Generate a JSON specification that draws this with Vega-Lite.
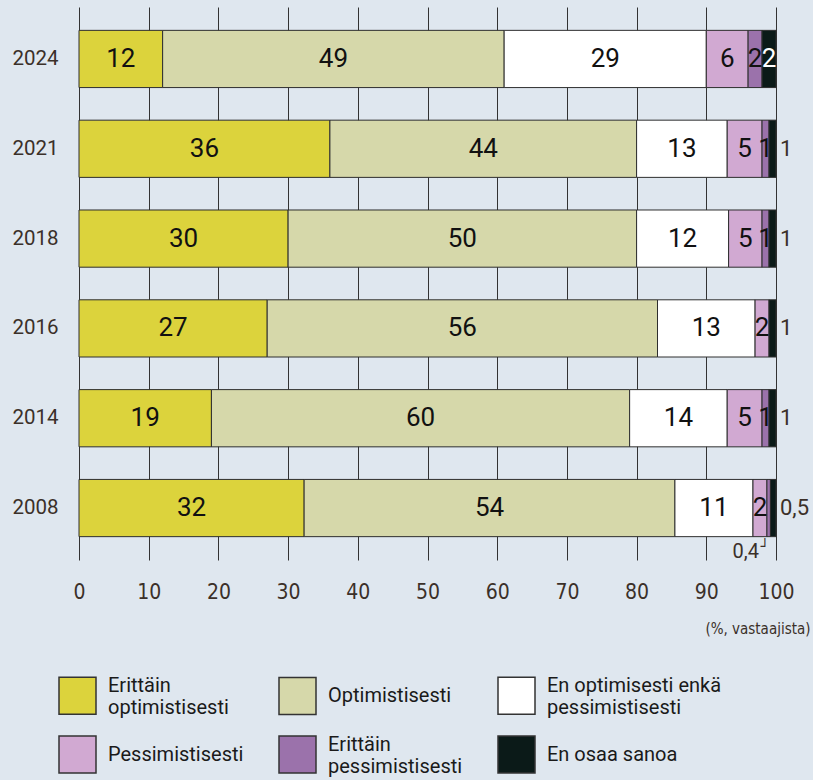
{
  "$schema": "https://vega.github.io/schema/vega-lite/v6.json",
  "width": 697,
  "height": 553,
  "autosize": {"type": "none"},
  "padding": {"left": 79, "top": 7, "right": 37, "bottom": 220},
  "background": "#dfe7ef",
  "config": {"view": {"stroke": null}, "font": "Roboto"},
  "data": {
    "values": [
      {"year": "2024", "cat": "Erittäin optimistisesti", "value": 12, "label": "12"},
      {"year": "2024", "cat": "Optimistisesti", "value": 49, "label": "49"},
      {"year": "2024", "cat": "En optimisesti enkä pessimistisesti", "value": 29, "label": "29"},
      {"year": "2024", "cat": "Pessimistisesti", "value": 6, "label": "6"},
      {"year": "2024", "cat": "Erittäin pessimistisesti", "value": 2, "label": "2"},
      {"year": "2024", "cat": "En osaa sanoa", "value": 2, "label": "2"},
      {"year": "2021", "cat": "Erittäin optimistisesti", "value": 36, "label": "36"},
      {"year": "2021", "cat": "Optimistisesti", "value": 44, "label": "44"},
      {"year": "2021", "cat": "En optimisesti enkä pessimistisesti", "value": 13, "label": "13"},
      {"year": "2021", "cat": "Pessimistisesti", "value": 5, "label": "5"},
      {"year": "2021", "cat": "Erittäin pessimistisesti", "value": 1, "label": "1"},
      {"year": "2021", "cat": "En osaa sanoa", "value": 1, "label": "1"},
      {"year": "2018", "cat": "Erittäin optimistisesti", "value": 30, "label": "30"},
      {"year": "2018", "cat": "Optimistisesti", "value": 50, "label": "50"},
      {"year": "2018", "cat": "En optimisesti enkä pessimistisesti", "value": 13.2, "label": "12"},
      {"year": "2018", "cat": "Pessimistisesti", "value": 4.8, "label": "5"},
      {"year": "2018", "cat": "Erittäin pessimistisesti", "value": 1, "label": "1"},
      {"year": "2018", "cat": "En osaa sanoa", "value": 1, "label": "1"},
      {"year": "2016", "cat": "Erittäin optimistisesti", "value": 27, "label": "27"},
      {"year": "2016", "cat": "Optimistisesti", "value": 56, "label": "56"},
      {"year": "2016", "cat": "En optimisesti enkä pessimistisesti", "value": 14, "label": "13"},
      {"year": "2016", "cat": "Pessimistisesti", "value": 2, "label": "2"},
      {"year": "2016", "cat": "En osaa sanoa", "value": 1, "label": "1"},
      {"year": "2014", "cat": "Erittäin optimistisesti", "value": 19, "label": "19"},
      {"year": "2014", "cat": "Optimistisesti", "value": 60, "label": "60"},
      {"year": "2014", "cat": "En optimisesti enkä pessimistisesti", "value": 14, "label": "14"},
      {"year": "2014", "cat": "Pessimistisesti", "value": 5, "label": "5"},
      {"year": "2014", "cat": "Erittäin pessimistisesti", "value": 1, "label": "1"},
      {"year": "2014", "cat": "En osaa sanoa", "value": 1, "label": "1"},
      {"year": "2008", "cat": "Erittäin optimistisesti", "value": 32.3, "label": "32"},
      {"year": "2008", "cat": "Optimistisesti", "value": 53.2, "label": "54"},
      {"year": "2008", "cat": "En optimisesti enkä pessimistisesti", "value": 11.2, "label": "11"},
      {"year": "2008", "cat": "Pessimistisesti", "value": 2, "label": "2"},
      {"year": "2008", "cat": "Erittäin pessimistisesti", "value": 0.5, "label": "0,4"},
      {"year": "2008", "cat": "En osaa sanoa", "value": 0.8, "label": "0,5"}
    ]
  },
  "transform": [
    {"calculate": "indexof(['Erittäin optimistisesti','Optimistisesti','En optimisesti enkä pessimistisesti','Pessimistisesti','Erittäin pessimistisesti','En osaa sanoa'], datum.cat)", "as": "ord"},
    {"stack": "value", "groupby": ["year"], "sort": [{"field": "ord", "order": "ascending"}], "as": ["x0", "x1"]},
    {"calculate": "(datum.x0 + datum.x1) / 2", "as": "xm"}
  ],
  "encoding": {
    "y": {
      "field": "year",
      "type": "nominal",
      "sort": ["2024", "2021", "2018", "2016", "2014", "2008"],
      "scale": {"paddingInner": 0.363, "paddingOuter": 0.26},
      "axis": {
        "title": null,
        "domain": false,
        "ticks": false,
        "labelPadding": 21,
        "labelFont": "Roboto",
        "labelFontSize": 20.5,
        "labelColor": "#3b3029"
      }
    }
  },
  "layer": [
    {
      "mark": {"type": "bar", "stroke": "#2e2e2e", "strokeWidth": 1},
      "encoding": {
        "x": {
          "field": "x0",
          "type": "quantitative",
          "scale": {"domain": [0, 100], "nice": false},
          "axis": {
            "values": [0, 10, 20, 30, 40, 50, 60, 70, 80, 90, 100],
            "grid": true,
            "gridColor": "#333333",
            "gridWidth": 1,
            "domain": false,
            "ticks": false,
            "labelFlush": false,
            "labelPadding": 21,
            "labelFont": "DejaVu Sans Condensed, Roboto, sans-serif",
            "labelFontSize": 21,
            "labelColor": "#3b3029",
            "title": "(%, vastaajista)",
            "titleFont": "DejaVu Sans Condensed, Roboto, sans-serif",
            "titleFontSize": 15,
            "titleFontWeight": "normal",
            "titleColor": "#3b3029",
            "titleAnchor": "end",
            "titleAlign": "right",
            "titleBaseline": "middle",
            "titleX": 731,
            "titleY": 68
          }
        },
        "x2": {"field": "x1"},
        "color": {
          "field": "cat",
          "type": "nominal",
          "scale": {
            "domain": ["Erittäin optimistisesti", "Optimistisesti", "En optimisesti enkä pessimistisesti", "Pessimistisesti", "Erittäin pessimistisesti", "En osaa sanoa"],
            "range": ["#dcd33c", "#d6d8aa", "#ffffff", "#d1a9d2", "#9b72ab", "#0b1a18"]
          },
          "legend": {
            "title": null,
            "orient": "none",
            "legendX": -21,
            "legendY": 669,
            "direction": "horizontal",
            "columns": 3,
            "gridAlign": "each",
            "columnPadding": 32,
            "rowPadding": 15,
            "symbolType": "square",
            "symbolSize": 1369,
            "symbolStrokeColor": "#333333",
            "symbolStrokeWidth": 1.5,
            "symbolOpacity": 1,
            "labelFont": "Roboto",
            "labelFontSize": 20,
            "labelColor": "#1a1a1a",
            "labelOffset": 11,
            "labelLimit": 300,
            "labelBaseline": {"expr": "indexof(['Erittäin optimistisesti', 'Erittäin pessimistisesti', 'En optimisesti enkä pessimistisesti'], datum.label) >= 0 ? 'bottom' : 'middle'"},
            "labelExpr": "datum.label == 'Erittäin optimistisesti' ? ['Erittäin', 'optimistisesti'] : datum.label == 'Erittäin pessimistisesti' ? ['Erittäin', 'pessimistisesti'] : datum.label == 'En optimisesti enkä pessimistisesti' ? ['En optimisesti enkä', 'pessimistisesti'] : datum.label"
          }
        }
      }
    },
    {
      "transform": [{"filter": "!(datum.cat == 'En osaa sanoa' && datum.value < 1.5) && datum.value >= 0.6"}],
      "mark": {"type": "text", "font": "Roboto", "fontSize": 26, "baseline": "middle", "align": "center"},
      "encoding": {
        "x": {"field": "xm", "type": "quantitative"},
        "text": {"field": "label"},
        "color": {"condition": {"test": "datum.cat == 'En osaa sanoa'", "value": "#ffffff"}, "value": "#111111"}
      }
    },
    {
      "transform": [{"filter": "datum.cat == 'En osaa sanoa' && datum.value < 1.5"}],
      "mark": {"type": "text", "font": "Roboto", "fontSize": 22, "baseline": "middle", "align": "left", "dx": 4, "color": "#3b3029"},
      "encoding": {
        "x": {"field": "x1", "type": "quantitative"},
        "text": {"field": "label"}
      }
    },
    {
      "transform": [{"filter": "datum.cat == 'Erittäin pessimistisesti' && datum.value < 0.6"}],
      "mark": {"type": "text", "font": "Roboto", "fontSize": 20, "baseline": "middle", "align": "right", "dx": -8, "dy": 44, "color": "#3b3029"},
      "encoding": {
        "x": {"field": "x0", "type": "quantitative"},
        "text": {"field": "label"}
      }
    },
    {
      "transform": [{"filter": "datum.cat == 'Erittäin pessimistisesti' && datum.value < 0.6"}],
      "mark": {"type": "text", "font": "DejaVu Sans", "fontSize": 14, "baseline": "middle", "align": "center", "dx": -4, "dy": 39, "color": "#3b3029", "text": "┘"},
      "encoding": {
        "x": {"field": "xm", "type": "quantitative"}
      }
    }
  ]
}
